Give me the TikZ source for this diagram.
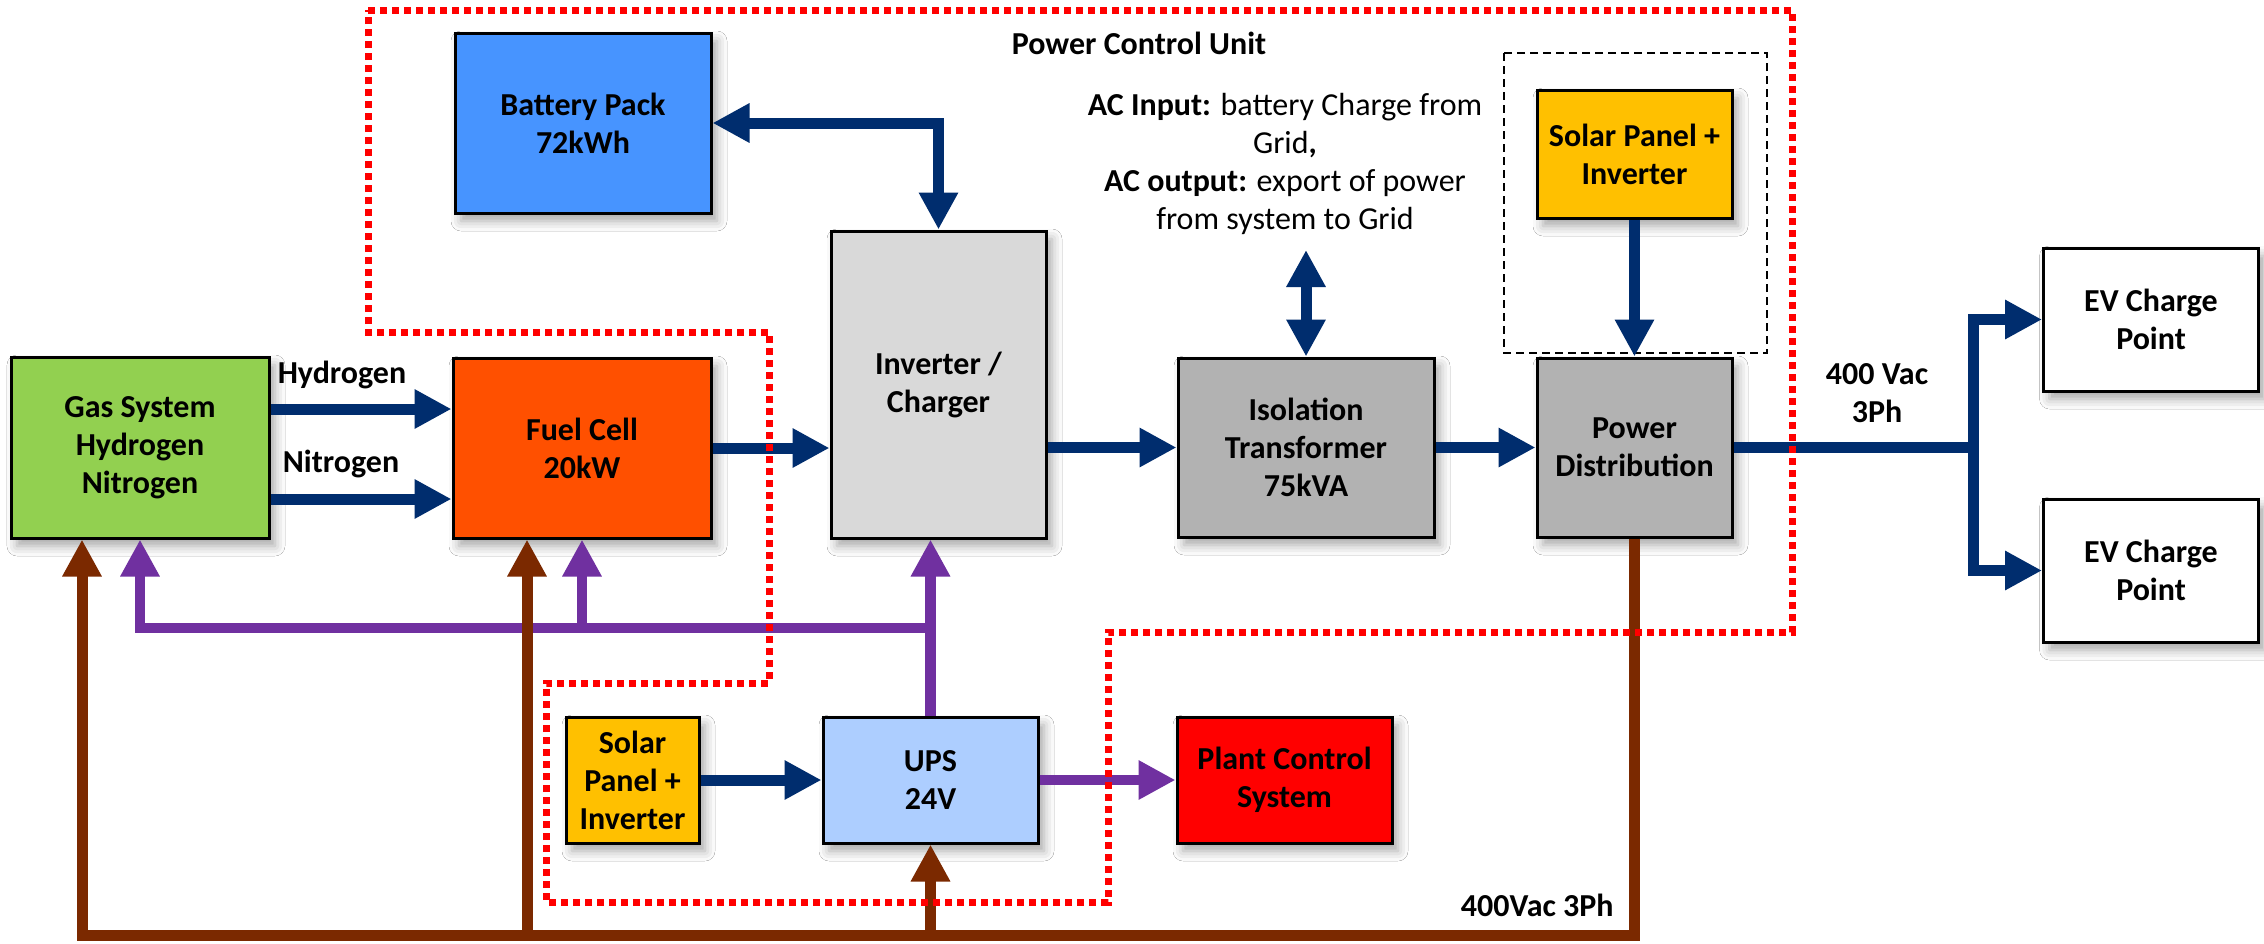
\documentclass[tikz,border=0pt]{standalone}
\usepackage{fontspec}
\setmainfont{Carlito}
\usetikzlibrary{arrows.meta,shadows.blur}
\definecolor{cnavy}{HTML}{002D6E}
\definecolor{cpurple}{HTML}{7030A0}
\definecolor{cbrown}{HTML}{7B2900}
\definecolor{cgreen}{HTML}{92D050}
\definecolor{corange}{HTML}{FF5000}
\definecolor{cblue}{HTML}{4794FF}
\definecolor{clight}{HTML}{D9D9D9}
\definecolor{cgray}{HTML}{B2B2B2}
\definecolor{csolar}{HTML}{FFC000}
\definecolor{cups}{HTML}{ADCEFF}
\definecolor{cred}{HTML}{FF0000}
\newcommand{\diafont}{\fontsize{16}{19}\selectfont}
\tikzset{
  >={Triangle[length=18.5pt,width=18.5pt]},
  box/.style={draw=black, line width=1.5pt, inner sep=2pt, align=center,
    font=\diafont\bfseries,
    blur shadow={shadow xshift=3pt, shadow yshift=-4pt, shadow blur radius=5pt, shadow opacity=35}},
  lbl/.style={align=center, font=\diafont\bfseries, inner sep=0pt},
  navyln/.style={draw=cnavy, line width=5.5pt},
  purpleln/.style={draw=cpurple, line width=5.25pt},
  brownln/.style={draw=cbrown, line width=5.5pt},
  pcu/.style={draw=cred, line width=3.5pt, dash pattern=on 3.5pt off 2.5pt},
  dashbox/.style={draw=black, line width=1pt, dash pattern=on 4pt off 2.5pt},
}
\begin{document}
\begin{tikzpicture}[x=0.5pt,y=-0.5pt]
\fill[white] (0,0) rectangle (2264,943);
\useasboundingbox (0,0) rectangle (2264,943);

% dashed box around top solar
\draw[dashbox] (1504,53) rectangle (1767,353);

% boxes
\node[box, fill=cgreen, minimum width=129pt, minimum height=90.5pt] (gas) at (140,447.5) {Gas System\\Hydrogen\\Nitrogen};
\node[box, fill=corange, minimum width=129pt, minimum height=90pt] (fuel) at (582,448) {Fuel Cell\\20kW};
\node[box, fill=cblue, minimum width=128pt, minimum height=90pt] (battery) at (583,123) {Battery Pack\\72kWh};
\node[box, fill=clight, minimum width=107.5pt, minimum height=153.5pt] (inverter) at (938.5,384.5) {Inverter /\\Charger};
\node[box, fill=cgray, minimum width=128pt, minimum height=89.5pt] (iso) at (1306,447.5) {Isolation\\Transformer\\75kVA};
\node[box, fill=cgray, minimum width=97.5pt, minimum height=89.5pt] (pdist) at (1634.5,447.5) {Power\\Distribution};
\node[box, fill=csolar, minimum width=97.5pt, minimum height=64pt] (solarA) at (1634.5,154) {Solar Panel +\\Inverter};
\node[box, fill=white, minimum width=107.5pt, minimum height=71.5pt] (evA) at (2151,319.5) {EV Charge\\Point};
\node[box, fill=white, minimum width=107.5pt, minimum height=71.5pt] (evB) at (2151,570.5) {EV Charge\\Point};
\node[box, fill=csolar, minimum width=66.5pt, minimum height=63pt] (solarB) at (632.5,780) {Solar\\Panel +\\Inverter};
\node[box, fill=cups, minimum width=107.5pt, minimum height=63pt] (ups) at (930.5,780) {UPS\\24V};
\node[box, fill=cred, minimum width=107.5pt, minimum height=63pt] (plant) at (1284.5,780) {Plant Control\\System};

% labels
\node[lbl] (pcutitle) at (1139,43) {Power Control Unit};
\node[lbl, font=\diafont] (actext) at (1285,163.5) {\textbf{AC Input:} battery Charge from\\Grid\textbf{,}\\\textbf{AC output:} export of power\\from system to Grid};
\node[lbl] (lblH) at (342,375) {Hydrogen};
\node[lbl] (lblN) at (341,464) {Nitrogen};
\node[lbl] (lblV) at (1877,393) {400 Vac\\3Ph};
\node[lbl, anchor=east] (lblB) at (1614,905) {400Vac 3Ph};

% helper coordinates
\coordinate (yH) at (0,409);
\coordinate (yN) at (0,499);
\coordinate (actop) at (1306,250);
\coordinate (split) at (1973,447.5);
\coordinate (pj) at (0,628);
\coordinate (bus) at (0,935);
\coordinate (gasbrown) at (82,0);
\coordinate (fuelbrown) at (527,0);

% navy connectors
\draw[navyln,->] (gas.east |- yH) -- (fuel.west |- yH);
\draw[navyln,->] (gas.east |- yN) -- (fuel.west |- yN);
\draw[navyln,->] (fuel.east) -- (inverter.west |- fuel.east);
\draw[navyln,->] (inverter.east |- iso.west) -- (iso.west);
\draw[navyln,->] (iso.east) -- (pdist.west);
\draw[navyln,<->] (battery.east) -| (inverter.north);
\draw[navyln,<->] (actop) -- (iso.north);
\draw[navyln,->] (solarA.south) -- (pdist.north);
\draw[navyln] (pdist.east) -- (split);
\draw[navyln,<->] (evA.west) -| (split) |- (evB.west);
\draw[navyln,->] (solarB.east) -- (ups.west);

% purple connectors
\draw[purpleln,->] (ups.east) -- (plant.west);
\draw[purpleln,->] (ups.north) -- (ups.north |- inverter.south);
\draw[purpleln,->] (ups.north |- pj) -| (gas.south);
\draw[purpleln,->] (fuel.south |- pj) -- (fuel.south);

% brown connectors
\draw[brownln,->] (pdist.south) |- (gasbrown |- bus) -- (gas.south -| gasbrown);
\draw[brownln,->] (fuelbrown |- bus) -- (fuel.south -| fuelbrown);
\draw[brownln,->] (ups.south |- bus) -- (ups.south);

% power control unit boundary
\draw[pcu] (368,10) -- (1792,10) -- (1792,632) -- (1108,632) -- (1108,902) -- (546,902) -- (546,683) -- (769,683) -- (769,332) -- (368,332) -- cycle;
\end{tikzpicture}
\end{document}
